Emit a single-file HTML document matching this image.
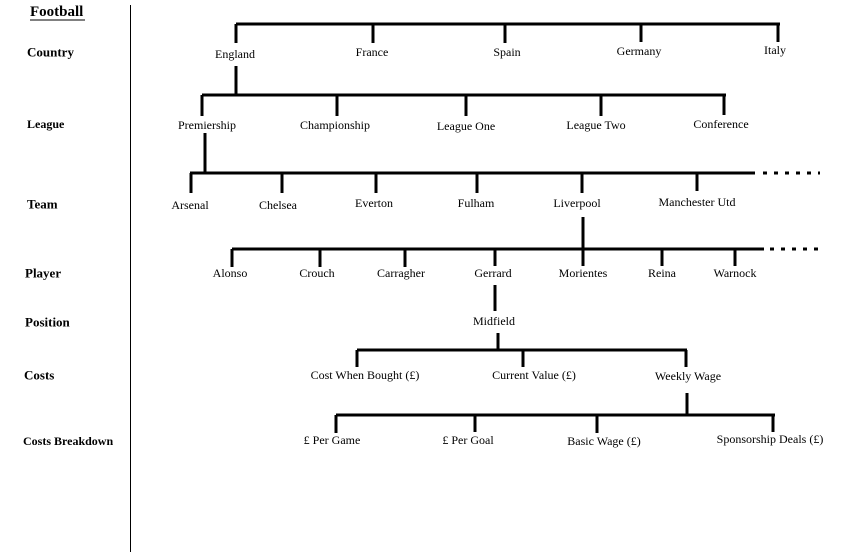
<!DOCTYPE html>
<html><head><meta charset="utf-8"><style>
html,body{margin:0;padding:0;background:#fff;}
svg{display:block;}
text{font-family:"Liberation Serif",serif;font-size:12px;fill:#000;}
.h{font-weight:bold;font-size:13px;}
</style></head><body>
<svg width="849" height="555" viewBox="0 0 849 555" xmlns="http://www.w3.org/2000/svg">
<line x1="130.5" y1="5" x2="130.5" y2="552" stroke="#000" stroke-width="1"/>
<g stroke="#000" stroke-width="3" fill="none">
<path d="M236 24H780M236 24V43M373 24V43M505 24V43M641 24V42M778 24V42"/>
<path d="M236 66V95"/>
<path d="M202 95H726M202 95V116M337 95V116M466 95V116M601 95V116M724 95V115"/>
<path d="M205 133V173"/>
<path d="M190 173H755M191 173V193M282 173V193M376 173V193M477 173V193M582 173V193M697 173V191"/>
<path d="M763 173H820" stroke-dasharray="4 7"/>
<path d="M583 217V266"/>
<path d="M232 249H764M232 249V267M320 249V267M405 249V267M495 249V266M662 249V266M735 249V266"/>
<path d="M770 249H823" stroke-dasharray="4 7"/>
<path d="M495 285V311M498 333V350"/>
<path d="M357 350H687M357 350V367M523 350V367M686 350V367"/>
<path d="M687 393V415"/>
<path d="M336 415H775M336 415V433M475 415V432M597 415V433M773 415V432"/>
</g>
<g text-anchor="middle" dominant-baseline="central">
<text x="235" y="54">England</text>
<text x="372" y="52">France</text>
<text x="507" y="52">Spain</text>
<text x="639" y="51">Germany</text>
<text x="775" y="50">Italy</text>
<text x="207" y="125">Premiership</text>
<text x="335" y="125">Championship</text>
<text x="466" y="126">League One</text>
<text x="596" y="125">League Two</text>
<text x="721" y="124">Conference</text>
<text x="190" y="205">Arsenal</text>
<text x="278" y="205">Chelsea</text>
<text x="374" y="203">Everton</text>
<text x="476" y="203">Fulham</text>
<text x="577" y="203">Liverpool</text>
<text x="697" y="202">Manchester Utd</text>
<text x="230" y="273">Alonso</text>
<text x="317" y="273">Crouch</text>
<text x="401" y="273">Carragher</text>
<text x="493" y="273">Gerrard</text>
<text x="583" y="273">Morientes</text>
<text x="662" y="273">Reina</text>
<text x="735" y="273">Warnock</text>
<text x="494" y="321">Midfield</text>
<text x="365" y="375">Cost When Bought (£)</text>
<text x="534" y="375">Current Value (£)</text>
<text x="688" y="376">Weekly Wage</text>
<text x="332" y="440">£ Per Game</text>
<text x="468" y="440">£ Per Goal</text>
<text x="604" y="441">Basic Wage (£)</text>
<text x="770" y="439">Sponsorship Deals (£)</text>
</g>
<g dominant-baseline="central">
<text class="h" x="30" y="12" style="font-size:15px">Football</text>
<line x1="30" y1="20" x2="85" y2="20" stroke="#000" stroke-width="1"/>
<text class="h" x="27" y="52">Country</text>
<text class="h" x="27" y="124" style="font-size:12px">League</text>
<text class="h" x="27" y="204">Team</text>
<text class="h" x="25" y="273">Player</text>
<text class="h" x="25" y="322">Position</text>
<text class="h" x="24" y="375">Costs</text>
<text class="h" x="23" y="441" style="font-size:12px">Costs Breakdown</text>
</g>
</svg>
</body></html>
